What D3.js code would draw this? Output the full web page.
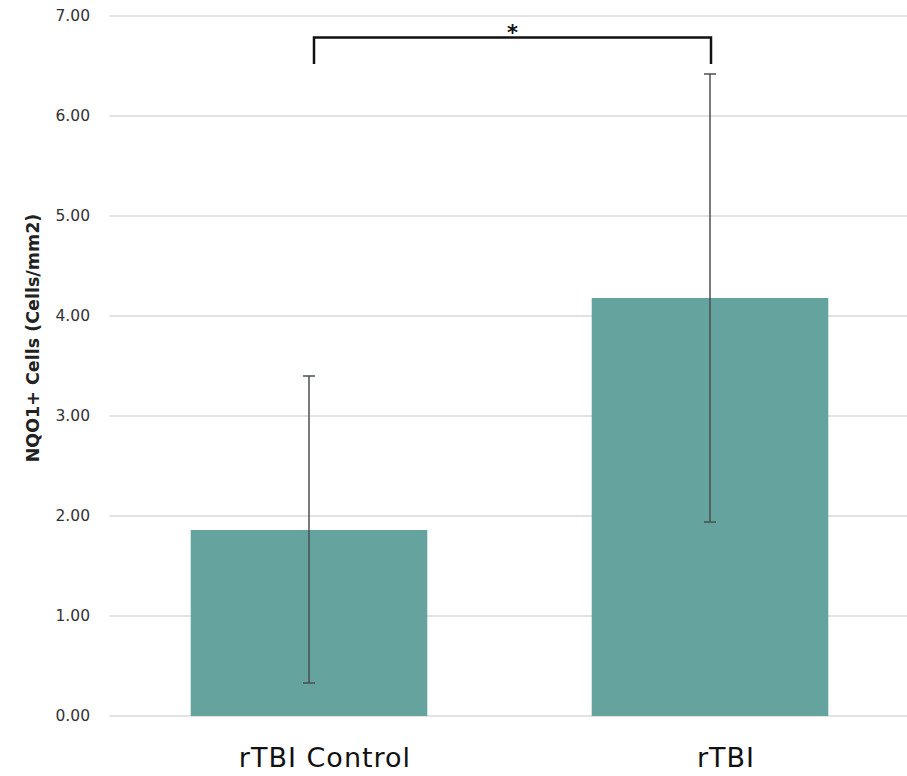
<!DOCTYPE html>
<html>
<head>
<meta charset="utf-8">
<script src="https://cdn.jsdelivr.net/npm/d3@7"></script>
<style>
  html, body { margin: 0; padding: 0; background: #fff; }
  svg { display: block; }
</style>
</head>
<body>
<svg id="chart" width="907" height="776"></svg>
<script>
// NQO1+ cell density by group, with error bars
const categories = ["rTBI Control", "rTBI"];
const means = [1.86, 4.18];
const errLow = [0.33, 1.94];
const errHigh = [3.40, 6.42];
const yTicks = [0, 1, 2, 3, 4, 5, 6, 7];
const yLabel = "NQO1+ Cells (Cells/mm2)";
const sigMark = "*";

const svg = d3.select("#chart");
const W = 907, H = 776;
const plotLeft = 108.5, plotRight = 910.5, plotTop = 16, plotBottom = 716;

const x = d3.scaleBand().domain(categories).range([plotLeft, plotRight]).paddingInner(0.41).paddingOuter(0.205);
const y = d3.scaleLinear().domain([0, 7]).range([plotBottom, plotTop]);

// gridlines
svg.append("g")
  .selectAll("line")
  .data(yTicks)
  .join("line")
  .attr("x1", plotLeft + 1).attr("x2", W)
  .attr("y1", d => y(d)).attr("y2", d => y(d))
  .attr("stroke", "#d9d9d9").attr("stroke-width", 1.5);

// y axis tick labels
const yAxis = d3.axisLeft(y).tickValues(yTicks).tickFormat(d3.format(".2f")).tickSize(0).tickPadding(0);
svg.append("g")
  .attr("transform", `translate(${plotLeft - 18.5},0)`)
  .call(yAxis)
  .call(g => g.select(".domain").remove())
  .call(g => g.selectAll("text")
    .attr("font-family", "'DejaVu Sans', sans-serif")
    .attr("font-size", 15.5)
    .attr("fill", "#333"));

// bars
svg.append("g")
  .selectAll("rect")
  .data(categories)
  .join("rect")
  .attr("x", d => x(d))
  .attr("width", x.bandwidth())
  .attr("y", (d, i) => y(means[i]))
  .attr("height", (d, i) => y(0) - y(means[i]))
  .attr("fill", "#64a39e");

// error bars
const eb = svg.append("g").attr("stroke", "#4a4f4f").attr("stroke-width", 1.5);
categories.forEach((c, i) => {
  const cx = x(c) + x.bandwidth() / 2;
  eb.append("line").attr("x1", cx).attr("x2", cx).attr("y1", y(errLow[i])).attr("y2", y(errHigh[i]));
  eb.append("line").attr("x1", cx - 6).attr("x2", cx + 6).attr("y1", y(errLow[i])).attr("y2", y(errLow[i]));
  eb.append("line").attr("x1", cx - 6).attr("x2", cx + 6).attr("y1", y(errHigh[i])).attr("y2", y(errHigh[i]));
});

// x category labels
svg.append("g")
  .selectAll("text")
  .data(categories)
  .join("text")
  .attr("x", d => x(d) + x.bandwidth() / 2 + 16)
  .attr("y", 767)
  .attr("text-anchor", "middle")
  .attr("font-family", "'DejaVu Sans', sans-serif")
  .attr("font-size", 27)
  .attr("letter-spacing", 1)
  .attr("fill", "#111")
  .text(d => d);

// y axis title
svg.append("text")
  .attr("transform", `translate(39,${338}) rotate(-90)`)
  .attr("text-anchor", "middle")
  .attr("font-family", "'DejaVu Sans', sans-serif")
  .attr("font-weight", "bold")
  .attr("font-size", 17.5)
  .attr("fill", "#222")
  .text(yLabel);

// significance bracket
const bx1 = x(categories[0]) + x.bandwidth() / 2 + 5;
const bx2 = x(categories[1]) + x.bandwidth() / 2 + 1;
const by = 37.5, byEnd = 64;
svg.append("path")
  .attr("d", `M${bx1},${byEnd} V${by} H${bx2} V${byEnd}`)
  .attr("fill", "none")
  .attr("stroke", "#111")
  .attr("stroke-width", 2.5);
svg.append("text")
  .attr("x", (bx1 + bx2) / 2)
  .attr("y", 40)
  .attr("text-anchor", "middle")
  .attr("font-family", "'DejaVu Sans', sans-serif")
  .attr("font-weight", "bold")
  .attr("font-size", 21)
  .attr("fill", "#111")
  .text(sigMark);
</script>
</body>
</html>
